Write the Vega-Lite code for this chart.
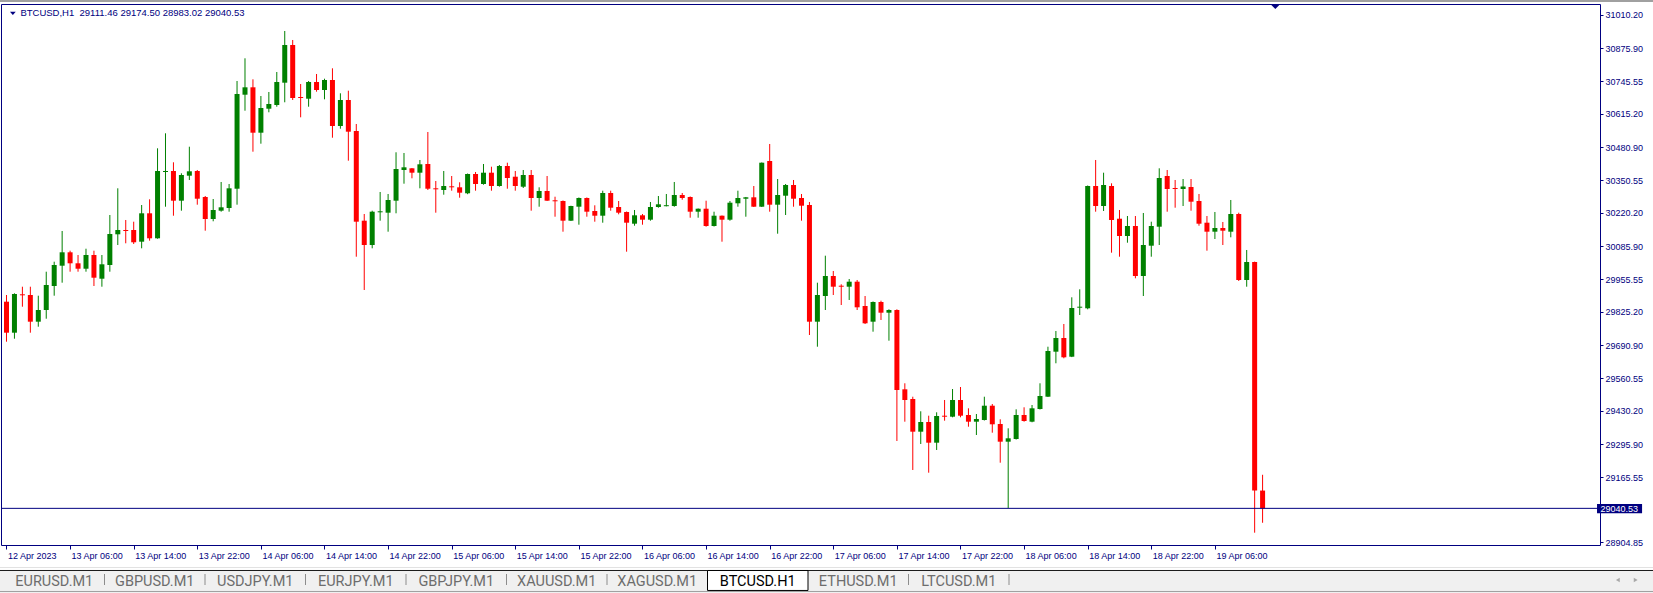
{
"$schema": "https://vega.github.io/schema/vega-lite/v6.json",
"width": 1599,
"height": 541,
"autosize": {"type": "none"},
"padding": {"left": 1, "top": 4, "right": 53, "bottom": 48},
"background": "#ffffff",
"config": {"view": {"stroke": "#000080", "strokeWidth": 1, "fill": "#ffffff"}, "font": "Liberation Sans", "axis": {"labelOverlap": false, "labelBound": false, "labelFlush": false}},
"datasets": {
"candles": [
{"t":"2023-04-12T22:00Z","open":29865.1,"high":29891.8,"low":29705.5,"close":29741.4},
{"t":"2023-04-12T23:00Z","open":29741.4,"high":29898.6,"low":29717.4,"close":29895.8},
{"t":"2023-04-13T00:00Z","open":29894.6,"high":29924.9,"low":29845.1,"close":29890.6},
{"t":"2023-04-13T01:00Z","open":29891.8,"high":29924.9,"low":29741.4,"close":29785.3},
{"t":"2023-04-13T02:00Z","open":29785.3,"high":29889.0,"low":29765.3,"close":29831.9},
{"t":"2023-04-13T03:00Z","open":29831.9,"high":29984.8,"low":29797.2,"close":29931.7},
{"t":"2023-04-13T04:00Z","open":29927.7,"high":30024.7,"low":29889.0,"close":30011.5},
{"t":"2023-04-13T05:00Z","open":30008.7,"high":30147.2,"low":29940.9,"close":30062.2},
{"t":"2023-04-13T06:00Z","open":30062.2,"high":30068.6,"low":29984.8,"close":30018.3},
{"t":"2023-04-13T07:00Z","open":30018.3,"high":30051.4,"low":29984.8,"close":29996.7},
{"t":"2023-04-13T08:00Z","open":29996.7,"high":30076.5,"low":29984.8,"close":30051.4},
{"t":"2023-04-13T09:00Z","open":30051.4,"high":30068.6,"low":29927.7,"close":29960.8},
{"t":"2023-04-13T10:00Z","open":29956.8,"high":30051.4,"low":29924.9,"close":30014.3},
{"t":"2023-04-13T11:00Z","open":30011.5,"high":30211.0,"low":29984.8,"close":30135.2},
{"t":"2023-04-13T12:00Z","open":30134.0,"high":30317.5,"low":30091.3,"close":30151.2},
{"t":"2023-04-13T13:00Z","open":30151.2,"high":30191.1,"low":30098.1,"close":30147.2},
{"t":"2023-04-13T14:00Z","open":30151.2,"high":30184.3,"low":30095.3,"close":30102.1},
{"t":"2023-04-13T15:00Z","open":30104.5,"high":30250.9,"low":30078.1,"close":30217.8},
{"t":"2023-04-13T16:00Z","open":30217.8,"high":30273.6,"low":30108.5,"close":30118.0},
{"t":"2023-04-13T17:00Z","open":30118.0,"high":30477.1,"low":30116.4,"close":30386.6},
{"t":"2023-04-13T18:00Z","open":30382.6,"high":30537.0,"low":30244.1,"close":30386.6},
{"t":"2023-04-13T19:00Z","open":30386.6,"high":30421.3,"low":30208.2,"close":30268.1},
{"t":"2023-04-13T20:00Z","open":30268.1,"high":30377.4,"low":30228.2,"close":30370.6},
{"t":"2023-04-13T21:00Z","open":30367.8,"high":30483.5,"low":30350.7,"close":30385.4},
{"t":"2023-04-13T22:00Z","open":30386.6,"high":30390.6,"low":30252.1,"close":30276.0},
{"t":"2023-04-13T23:00Z","open":30282.8,"high":30286.8,"low":30148.4,"close":30195.0},
{"t":"2023-04-14T00:00Z","open":30195.0,"high":30274.8,"low":30185.9,"close":30231.0},
{"t":"2023-04-14T01:00Z","open":30228.2,"high":30342.7,"low":30224.2,"close":30241.7},
{"t":"2023-04-14T02:00Z","open":30238.9,"high":30334.7,"low":30224.2,"close":30317.5},
{"t":"2023-04-14T03:00Z","open":30315.9,"high":30745.7,"low":30252.1,"close":30693.8},
{"t":"2023-04-14T04:00Z","open":30691.0,"high":30836.2,"low":30627.2,"close":30720.5},
{"t":"2023-04-14T05:00Z","open":30720.5,"high":30752.4,"low":30463.6,"close":30539.4},
{"t":"2023-04-14T06:00Z","open":30539.4,"high":30685.8,"low":30495.5,"close":30637.9},
{"t":"2023-04-14T07:00Z","open":30635.1,"high":30701.8,"low":30620.8,"close":30653.9},
{"t":"2023-04-14T08:00Z","open":30649.9,"high":30781.6,"low":30643.1,"close":30741.7},
{"t":"2023-04-14T09:00Z","open":30738.9,"high":30945.2,"low":30660.7,"close":30889.3},
{"t":"2023-04-14T10:00Z","open":30889.3,"high":30909.3,"low":30669.9,"close":30677.8},
{"t":"2023-04-14T11:00Z","open":30681.8,"high":30733.7,"low":30600.8,"close":30677.8},
{"t":"2023-04-14T12:00Z","open":30675.0,"high":30745.7,"low":30643.1,"close":30741.7},
{"t":"2023-04-14T13:00Z","open":30741.7,"high":30773.6,"low":30703.0,"close":30709.8},
{"t":"2023-04-14T14:00Z","open":30709.8,"high":30754.8,"low":30672.6,"close":30749.7},
{"t":"2023-04-14T15:00Z","open":30749.7,"high":30796.3,"low":30519.4,"close":30566.1},
{"t":"2023-04-14T16:00Z","open":30566.1,"high":30696.6,"low":30555.3,"close":30669.9},
{"t":"2023-04-14T17:00Z","open":30669.9,"high":30707.0,"low":30427.7,"close":30543.4},
{"t":"2023-04-14T18:00Z","open":30546.2,"high":30574.1,"low":30044.6,"close":30184.3},
{"t":"2023-04-14T19:00Z","open":30188.3,"high":30215.0,"low":29911.8,"close":30091.3},
{"t":"2023-04-14T20:00Z","open":30091.3,"high":30228.2,"low":30078.1,"close":30224.2},
{"t":"2023-04-14T21:00Z","open":30221.8,"high":30302.8,"low":30188.3,"close":30225.8},
{"t":"2023-04-14T22:00Z","open":30220.2,"high":30294.8,"low":30144.4,"close":30270.9},
{"t":"2023-04-14T23:00Z","open":30268.1,"high":30461.2,"low":30217.8,"close":30394.5},
{"t":"2023-04-15T00:00Z","open":30390.6,"high":30458.4,"low":30335.9,"close":30401.3},
{"t":"2023-04-15T01:00Z","open":30397.3,"high":30398.5,"low":30357.4,"close":30379.8},
{"t":"2023-04-15T02:00Z","open":30379.8,"high":30430.5,"low":30317.5,"close":30413.3},
{"t":"2023-04-15T03:00Z","open":30414.5,"high":30542.2,"low":30310.8,"close":30315.9},
{"t":"2023-04-15T04:00Z","open":30317.5,"high":30346.7,"low":30220.2,"close":30313.5},
{"t":"2023-04-15T05:00Z","open":30310.8,"high":30386.6,"low":30292.0,"close":30326.7},
{"t":"2023-04-15T06:00Z","open":30325.5,"high":30366.6,"low":30308.0,"close":30321.5},
{"t":"2023-04-15T07:00Z","open":30321.5,"high":30341.5,"low":30280.0,"close":30300.0},
{"t":"2023-04-15T08:00Z","open":30297.6,"high":30376.5,"low":30294.0,"close":30374.6},
{"t":"2023-04-15T09:00Z","open":30374.6,"high":30382.6,"low":30308.0,"close":30334.7},
{"t":"2023-04-15T10:00Z","open":30334.7,"high":30414.5,"low":30331.9,"close":30379.8},
{"t":"2023-04-15T11:00Z","open":30379.8,"high":30403.7,"low":30308.0,"close":30326.7},
{"t":"2023-04-15T12:00Z","open":30326.7,"high":30410.5,"low":30324.0,"close":30406.5},
{"t":"2023-04-15T13:00Z","open":30406.5,"high":30419.7,"low":30315.9,"close":30358.6},
{"t":"2023-04-15T14:00Z","open":30363.8,"high":30386.6,"low":30308.0,"close":30326.7},
{"t":"2023-04-15T15:00Z","open":30323.9,"high":30390.6,"low":30318.7,"close":30370.6},
{"t":"2023-04-15T16:00Z","open":30370.6,"high":30390.6,"low":30228.2,"close":30278.8},
{"t":"2023-04-15T17:00Z","open":30278.8,"high":30321.5,"low":30244.1,"close":30306.8},
{"t":"2023-04-15T18:00Z","open":30306.8,"high":30366.6,"low":30266.9,"close":30268.1},
{"t":"2023-04-15T19:00Z","open":30269.7,"high":30284.0,"low":30204.2,"close":30265.7},
{"t":"2023-04-15T20:00Z","open":30266.9,"high":30269.0,"low":30144.4,"close":30188.3},
{"t":"2023-04-15T21:00Z","open":30188.3,"high":30248.0,"low":30187.0,"close":30246.9},
{"t":"2023-04-15T22:00Z","open":30244.1,"high":30281.0,"low":30172.3,"close":30278.8},
{"t":"2023-04-15T23:00Z","open":30278.8,"high":30281.0,"low":30204.2,"close":30224.2},
{"t":"2023-04-16T00:00Z","open":30227.0,"high":30249.7,"low":30184.3,"close":30208.2},
{"t":"2023-04-16T01:00Z","open":30208.2,"high":30308.0,"low":30180.3,"close":30298.8},
{"t":"2023-04-16T02:00Z","open":30298.8,"high":30308.0,"low":30228.2,"close":30240.1},
{"t":"2023-04-16T03:00Z","open":30242.9,"high":30266.9,"low":30213.8,"close":30220.2},
{"t":"2023-04-16T04:00Z","open":30223.0,"high":30225.0,"low":30064.6,"close":30180.3},
{"t":"2023-04-16T05:00Z","open":30176.3,"high":30231.0,"low":30168.3,"close":30209.8},
{"t":"2023-04-16T06:00Z","open":30209.8,"high":30215.0,"low":30172.3,"close":30192.3},
{"t":"2023-04-16T07:00Z","open":30192.3,"high":30262.9,"low":30188.3,"close":30242.9},
{"t":"2023-04-16T08:00Z","open":30242.9,"high":30286.8,"low":30240.1,"close":30253.7},
{"t":"2023-04-16T09:00Z","open":30246.1,"high":30294.8,"low":30245.5,"close":30250.1},
{"t":"2023-04-16T10:00Z","open":30246.9,"high":30342.7,"low":30244.1,"close":30290.8},
{"t":"2023-04-16T11:00Z","open":30290.8,"high":30298.8,"low":30272.0,"close":30278.8},
{"t":"2023-04-16T12:00Z","open":30282.8,"high":30285.0,"low":30200.2,"close":30224.2},
{"t":"2023-04-16T13:00Z","open":30224.2,"high":30237.0,"low":30200.2,"close":30236.1},
{"t":"2023-04-16T14:00Z","open":30236.1,"high":30268.1,"low":30164.3,"close":30167.1},
{"t":"2023-04-16T15:00Z","open":30167.1,"high":30224.2,"low":30165.0,"close":30208.2},
{"t":"2023-04-16T16:00Z","open":30208.2,"high":30209.0,"low":30104.5,"close":30192.3},
{"t":"2023-04-16T17:00Z","open":30192.3,"high":30266.9,"low":30188.3,"close":30260.1},
{"t":"2023-04-16T18:00Z","open":30257.7,"high":30308.0,"low":30244.1,"close":30278.8},
{"t":"2023-04-16T19:00Z","open":30276.0,"high":30283.0,"low":30204.2,"close":30281.6},
{"t":"2023-04-16T20:00Z","open":30281.6,"high":30326.7,"low":30242.9,"close":30244.1},
{"t":"2023-04-16T21:00Z","open":30244.1,"high":30420.5,"low":30242.9,"close":30419.7},
{"t":"2023-04-16T22:00Z","open":30426.5,"high":30494.3,"low":30224.2,"close":30252.1},
{"t":"2023-04-16T23:00Z","open":30252.1,"high":30354.6,"low":30136.4,"close":30290.8},
{"t":"2023-04-17T00:00Z","open":30288.0,"high":30334.7,"low":30211.0,"close":30330.7},
{"t":"2023-04-17T01:00Z","open":30330.7,"high":30350.7,"low":30244.1,"close":30276.0},
{"t":"2023-04-17T02:00Z","open":30278.8,"high":30294.8,"low":30188.3,"close":30248.1},
{"t":"2023-04-17T03:00Z","open":30250.9,"high":30262.9,"low":29732.2,"close":29785.3},
{"t":"2023-04-17T04:00Z","open":29785.3,"high":29940.9,"low":29685.5,"close":29891.8},
{"t":"2023-04-17T05:00Z","open":29887.8,"high":30048.6,"low":29831.9,"close":29967.6},
{"t":"2023-04-17T06:00Z","open":29967.6,"high":29987.6,"low":29891.8,"close":29924.9},
{"t":"2023-04-17T07:00Z","open":29928.9,"high":29934.5,"low":29851.9,"close":29924.9},
{"t":"2023-04-17T08:00Z","open":29924.9,"high":29955.6,"low":29871.9,"close":29944.9},
{"t":"2023-04-17T09:00Z","open":29944.9,"high":29951.7,"low":29831.9,"close":29842.7},
{"t":"2023-04-17T10:00Z","open":29847.9,"high":29887.8,"low":29776.0,"close":29778.9},
{"t":"2023-04-17T11:00Z","open":29785.3,"high":29866.0,"low":29745.4,"close":29863.9},
{"t":"2023-04-17T12:00Z","open":29863.9,"high":29869.1,"low":29792.1,"close":29821.2},
{"t":"2023-04-17T13:00Z","open":29821.2,"high":29834.7,"low":29709.5,"close":29831.9},
{"t":"2023-04-17T14:00Z","open":29831.9,"high":29834.7,"low":29309.3,"close":29512.8},
{"t":"2023-04-17T15:00Z","open":29515.5,"high":29539.5,"low":29386.3,"close":29472.9},
{"t":"2023-04-17T16:00Z","open":29476.8,"high":29486.0,"low":29193.6,"close":29346.4},
{"t":"2023-04-17T17:00Z","open":29346.4,"high":29427.8,"low":29297.3,"close":29385.1},
{"t":"2023-04-17T18:00Z","open":29385.1,"high":29410.2,"low":29182.8,"close":29302.5},
{"t":"2023-04-17T19:00Z","open":29302.5,"high":29423.8,"low":29273.4,"close":29409.0},
{"t":"2023-04-17T20:00Z","open":29410.2,"high":29472.9,"low":29390.3,"close":29406.2},
{"t":"2023-04-17T21:00Z","open":29406.2,"high":29516.7,"low":29403.8,"close":29472.9},
{"t":"2023-04-17T22:00Z","open":29472.9,"high":29524.7,"low":29403.8,"close":29410.2},
{"t":"2023-04-17T23:00Z","open":29413.0,"high":29439.7,"low":29366.3,"close":29386.3},
{"t":"2023-04-18T00:00Z","open":29386.3,"high":29417.0,"low":29333.2,"close":29397.0},
{"t":"2023-04-18T01:00Z","open":29393.1,"high":29486.0,"low":29391.0,"close":29450.1},
{"t":"2023-04-18T02:00Z","open":29450.1,"high":29456.9,"low":29342.4,"close":29375.9},
{"t":"2023-04-18T03:00Z","open":29377.1,"high":29395.8,"low":29222.7,"close":29306.5},
{"t":"2023-04-18T04:00Z","open":29306.5,"high":29359.9,"low":29042.0,"close":29320.0},
{"t":"2023-04-18T05:00Z","open":29317.2,"high":29435.7,"low":29315.0,"close":29413.0},
{"t":"2023-04-18T06:00Z","open":29413.0,"high":29443.7,"low":29386.3,"close":29389.1},
{"t":"2023-04-18T07:00Z","open":29386.3,"high":29452.9,"low":29384.0,"close":29439.7},
{"t":"2023-04-18T08:00Z","open":29436.9,"high":29539.5,"low":29435.0,"close":29488.8},
{"t":"2023-04-18T09:00Z","open":29486.0,"high":29685.5,"low":29485.0,"close":29668.4},
{"t":"2023-04-18T10:00Z","open":29665.6,"high":29748.2,"low":29619.3,"close":29720.2},
{"t":"2023-04-18T11:00Z","open":29720.2,"high":29776.1,"low":29639.2,"close":29643.2},
{"t":"2023-04-18T12:00Z","open":29645.6,"high":29882.6,"low":29644.0,"close":29839.9},
{"t":"2023-04-18T13:00Z","open":29841.1,"high":29914.5,"low":29812.0,"close":29845.1},
{"t":"2023-04-18T14:00Z","open":29838.7,"high":30328.7,"low":29834.7,"close":30326.7},
{"t":"2023-04-18T15:00Z","open":30326.7,"high":30430.5,"low":30224.2,"close":30246.9},
{"t":"2023-04-18T16:00Z","open":30246.9,"high":30379.8,"low":30227.0,"close":30330.7},
{"t":"2023-04-18T17:00Z","open":30326.7,"high":30337.5,"low":30060.6,"close":30191.1},
{"t":"2023-04-18T18:00Z","open":30196.2,"high":30231.0,"low":30044.6,"close":30127.2},
{"t":"2023-04-18T19:00Z","open":30127.2,"high":30207.0,"low":30100.5,"close":30167.1},
{"t":"2023-04-18T20:00Z","open":30167.1,"high":30207.0,"low":29958.4,"close":29967.6},
{"t":"2023-04-18T21:00Z","open":29967.6,"high":30219.0,"low":29887.8,"close":30091.3},
{"t":"2023-04-18T22:00Z","open":30088.5,"high":30184.3,"low":30044.6,"close":30167.1},
{"t":"2023-04-18T23:00Z","open":30164.3,"high":30397.3,"low":30091.3,"close":30358.6},
{"t":"2023-04-19T00:00Z","open":30366.6,"high":30390.6,"low":30224.2,"close":30314.7},
{"t":"2023-04-19T01:00Z","open":30318.7,"high":30350.7,"low":30240.1,"close":30314.7},
{"t":"2023-04-19T02:00Z","open":30314.7,"high":30354.6,"low":30246.9,"close":30324.7},
{"t":"2023-04-19T03:00Z","open":30322.7,"high":30354.6,"low":30228.2,"close":30264.1},
{"t":"2023-04-19T04:00Z","open":30266.9,"high":30294.8,"low":30168.3,"close":30176.3},
{"t":"2023-04-19T05:00Z","open":30180.3,"high":30207.0,"low":30068.6,"close":30144.4},
{"t":"2023-04-19T06:00Z","open":30144.4,"high":30223.0,"low":30115.2,"close":30159.1},
{"t":"2023-04-19T07:00Z","open":30159.1,"high":30183.1,"low":30091.3,"close":30148.4},
{"t":"2023-04-19T08:00Z","open":30144.4,"high":30270.9,"low":30122.0,"close":30215.0},
{"t":"2023-04-19T09:00Z","open":30215.0,"high":30220.2,"low":29947.7,"close":29951.7},
{"t":"2023-04-19T10:00Z","open":29951.7,"high":30071.4,"low":29924.9,"close":30023.5},
{"t":"2023-04-19T11:00Z","open":30023.5,"high":30025.0,"low":28943.4,"close":29111.46},
{"t":"2023-04-19T12:00Z","open":29111.46,"high":29174.5,"low":28983.02,"close":29040.53}
],
"tabs": [
{"tab":"EURUSD.M1"},{"tab":"GBPUSD.M1"},{"tab":"USDJPY.M1"},{"tab":"EURJPY.M1"},{"tab":"GBPJPY.M1"},
{"tab":"XAUUSD.M1"},{"tab":"XAGUSD.M1"},{"tab":"BTCUSD.H1"},{"tab":"ETHUSD.M1"},{"tab":"LTCUSD.M1"}
]
},
"resolve": {"scale": {"x": "independent"}, "axis": {"x": "independent"}},
"layer": [
{
"layer": [
{
"data": {"values": [{}]},
"mark": {"type": "rect", "fill": "#f0f0f0"},
"encoding": {
"x": {"datum": {"year": 2023, "month": 4, "date": 12, "hours": 20, "utc": true}, "type": "temporal"},
"x2": {"datum": {"year": 2023, "month": 4, "date": 21, "hours": 14, "utc": true}},
"y": {"datum": 28790.6},
"y2": {"datum": 28700}
}
},
{
"data": {"values": [{}]},
"mark": {"type": "rule", "color": "#e2e2e2", "strokeWidth": 1},
"encoding": {
"x": {"datum": {"year": 2023, "month": 4, "date": 12, "hours": 20, "utc": true}, "type": "temporal"},
"x2": {"datum": {"year": 2023, "month": 4, "date": 21, "hours": 14, "utc": true}},
"y": {"datum": 28804.5}
}
},
{
"data": {"values": [{}]},
"mark": {"type": "rule", "color": "#1a1a1a", "strokeWidth": 1},
"encoding": {
"x": {"datum": {"year": 2023, "month": 4, "date": 12, "hours": 20, "utc": true}, "type": "temporal"},
"x2": {"datum": {"year": 2023, "month": 4, "date": 21, "hours": 14, "utc": true}},
"y": {"datum": 28792.6}
}
},
{
"data": {"values": [{}]},
"mark": {"type": "rule", "color": "#a0a0a0", "strokeWidth": 1},
"encoding": {
"x": {"datum": {"year": 2023, "month": 4, "date": 12, "hours": 20, "utc": true}, "type": "temporal"},
"x2": {"datum": {"year": 2023, "month": 4, "date": 21, "hours": 14, "utc": true}},
"y": {"datum": 28708.8}
}
},
{
"data": {"values": [{}]},
"mark": {"type": "rule", "color": "#a0a0a0", "strokeWidth": 2},
"encoding": {
"x": {"datum": {"year": 2023, "month": 4, "date": 12, "hours": 20, "utc": true}, "type": "temporal"},
"x2": {"datum": {"year": 2023, "month": 4, "date": 21, "hours": 14, "utc": true}},
"y": {"datum": 31064.9}
}
},
{
"data": {"name": "candles"},
"mark": {"type": "rule", "strokeWidth": 1},
"encoding": {
"x": {
"field": "t", "type": "temporal",
"scale": {"type": "utc", "domain": [
{"year": 2023, "month": 4, "date": 12, "hours": 21, "minutes": 56, "seconds": 15, "utc": true},
{"year": 2023, "month": 4, "date": 21, "hours": 5, "minutes": 48, "seconds": 45, "utc": true}
]},
"axis": {
"values": [
{"year": 2023, "month": 4, "date": 12, "hours": 22, "utc": true},
{"year": 2023, "month": 4, "date": 13, "hours": 6, "utc": true},
{"year": 2023, "month": 4, "date": 13, "hours": 14, "utc": true},
{"year": 2023, "month": 4, "date": 13, "hours": 22, "utc": true},
{"year": 2023, "month": 4, "date": 14, "hours": 6, "utc": true},
{"year": 2023, "month": 4, "date": 14, "hours": 14, "utc": true},
{"year": 2023, "month": 4, "date": 14, "hours": 22, "utc": true},
{"year": 2023, "month": 4, "date": 15, "hours": 6, "utc": true},
{"year": 2023, "month": 4, "date": 15, "hours": 14, "utc": true},
{"year": 2023, "month": 4, "date": 15, "hours": 22, "utc": true},
{"year": 2023, "month": 4, "date": 16, "hours": 6, "utc": true},
{"year": 2023, "month": 4, "date": 16, "hours": 14, "utc": true},
{"year": 2023, "month": 4, "date": 16, "hours": 22, "utc": true},
{"year": 2023, "month": 4, "date": 17, "hours": 6, "utc": true},
{"year": 2023, "month": 4, "date": 17, "hours": 14, "utc": true},
{"year": 2023, "month": 4, "date": 17, "hours": 22, "utc": true},
{"year": 2023, "month": 4, "date": 18, "hours": 6, "utc": true},
{"year": 2023, "month": 4, "date": 18, "hours": 14, "utc": true},
{"year": 2023, "month": 4, "date": 18, "hours": 22, "utc": true},
{"year": 2023, "month": 4, "date": 19, "hours": 6, "utc": true}
],
"tickCount": 60,
"labelExpr": "(utcdate(datum.value) == 12 && utchours(datum.value) == 22) ? utcFormat(datum.value, '%d %b %Y') : utcFormat(datum.value, '%d %b %H:%M')",
"labelAlign": "left", "labelBaseline": "top", "labelPadding": 2, "labelOffset": 1,
"labelFontSize": 9, "labelFont": "Liberation Sans", "labelColor": "#000080",
"tickColor": "#000080", "tickSize": 4, "tickWidth": 1,
"domain": false, "grid": false, "title": null,
"labelOverlap": false, "labelFlush": false, "labelBound": false
}
},
"y": {
"field": "low", "type": "quantitative",
"scale": {"domain": [28894.3, 31052.9], "zero": false, "nice": false},
"axis": {
"orient": "right",
"values": [31010.2, 30875.9, 30745.55, 30615.2, 30480.9, 30350.55, 30220.2, 30085.9, 29955.55, 29825.2, 29690.9, 29560.55, 29430.2, 29295.9, 29165.55, 28904.85],
"tickCount": 40,
"format": ".2f",
"labelFontSize": 9, "labelFont": "Liberation Sans", "labelColor": "#000080",
"tickColor": "#000080", "tickSize": 3, "labelPadding": 2,
"domain": false, "grid": false, "title": null,
"labelOverlap": false, "labelBound": false, "labelFlush": false
}
},
"y2": {"field": "high"},
"color": {"condition": {"test": "datum.close >= datum.open", "value": "#008000"}, "value": "#ff0000"}
}
},
{
"data": {"name": "candles"},
"mark": {"type": "bar", "width": 5},
"encoding": {
"x": {"field": "t", "type": "temporal"},
"y": {"field": "open", "type": "quantitative"},
"y2": {"field": "close"},
"color": {"condition": {"test": "datum.close >= datum.open", "value": "#008000"}, "value": "#ff0000"}
}
},
{
"data": {"values": [{}]},
"mark": {"type": "rule", "color": "#000080", "strokeWidth": 1},
"encoding": {"y": {"datum": 29040.53}}
},
{
"data": {"values": [{}]},
"mark": {"type": "rect", "fill": "#000080"},
"encoding": {
"x": {"datum": {"year": 2023, "month": 4, "date": 21, "hours": 6, "minutes": 4, "utc": true}, "type": "temporal"},
"x2": {"datum": {"year": 2023, "month": 4, "date": 21, "hours": 11, "minutes": 44, "utc": true}},
"y": {"datum": 29057.9},
"y2": {"datum": 29020.8}
}
},
{
"data": {"values": [{}]},
"mark": {"type": "text", "text": "29040.53", "align": "left", "baseline": "middle", "fontSize": 9, "font": "Liberation Sans", "fill": "#ffffff"},
"encoding": {
"x": {"datum": {"year": 2023, "month": 4, "date": 21, "hours": 6, "minutes": 30, "utc": true}, "type": "temporal"},
"y": {"datum": 29039.3}
}
},
{
"data": {"values": [{}]},
"mark": {"type": "point", "shape": "M-1,-0.5L1,-0.5L0,0.5Z", "size": 100, "filled": true, "color": "#000080", "opacity": 1},
"encoding": {
"x": {"datum": {"year": 2023, "month": 4, "date": 19, "hours": 13, "minutes": 36, "utc": true}, "type": "temporal"},
"y": {"datum": 31042.9}
}
},
{
"data": {"values": [{}]},
"mark": {"type": "point", "shape": "M-1,-0.55L1,-0.55L0,0.55Z", "size": 33, "filled": true, "color": "#000080", "opacity": 1},
"encoding": {
"x": {"datum": {"year": 2023, "month": 4, "date": 12, "hours": 22, "minutes": 48, "utc": true}, "type": "temporal"},
"y": {"datum": 31015.8}
}
},
{
"data": {"values": [{}]},
"mark": {"type": "text", "text": "BTCUSD,H1\u00a0\u00a029111.46 29174.50 28983.02 29040.53", "align": "left", "baseline": "middle", "fontSize": 9.5, "font": "Liberation Sans", "fill": "#000080"},
"encoding": {
"x": {"datum": {"year": 2023, "month": 4, "date": 12, "hours": 23, "minutes": 45, "utc": true}, "type": "temporal"},
"y": {"datum": 31018.4}
}
},
{
"data": {"values": [{}]},
"mark": {"type": "point", "shape": "triangle-left", "size": 20, "filled": true, "color": "#a8a8a8", "opacity": 1},
"encoding": {
"x": {"datum": {"year": 2023, "month": 4, "date": 21, "hours": 8, "minutes": 41, "utc": true}, "type": "temporal"},
"y": {"datum": 28754.7}
}
},
{
"data": {"values": [{}]},
"mark": {"type": "point", "shape": "triangle-right", "size": 20, "filled": true, "color": "#a8a8a8", "opacity": 1},
"encoding": {
"x": {"datum": {"year": 2023, "month": 4, "date": 21, "hours": 10, "minutes": 56, "utc": true}, "type": "temporal"},
"y": {"datum": 28754.7}
}
}
]
},
{
"data": {"name": "tabs"},
"layer": [
{
"transform": [{"filter": "datum.tab == 'BTCUSD.H1'"}],
"mark": {"type": "rect", "fill": "#ffffff", "stroke": "#000000", "strokeWidth": 1},
"encoding": {
"x": {"field": "tab", "type": "nominal", "sort": null, "axis": null,
"scale": {"type": "band", "domain": ["EURUSD.M1","GBPUSD.M1","USDJPY.M1","EURJPY.M1","GBPJPY.M1","XAUUSD.M1","XAGUSD.M1","BTCUSD.H1","ETHUSD.M1","LTCUSD.M1"], "range": [3, 1008], "paddingInner": 0, "paddingOuter": 0}},
"y": {"datum": 28792.6},
"y2": {"datum": 28712.9}
}
},
{
"transform": [{"filter": "datum.tab != 'EURUSD.M1' && datum.tab != 'BTCUSD.H1' && datum.tab != 'ETHUSD.M1'"}],
"mark": {"type": "rule", "color": "#8c8c8c", "strokeWidth": 1},
"encoding": {
"x": {"field": "tab", "type": "nominal", "bandPosition": 0, "axis": null},
"y": {"datum": 28778.6},
"y2": {"datum": 28734.7}
}
},
{
"transform": [{"filter": "datum.tab == 'LTCUSD.M1'"}],
"mark": {"type": "rule", "color": "#8c8c8c", "strokeWidth": 1},
"encoding": {
"x": {"field": "tab", "type": "nominal", "bandPosition": 1, "axis": null},
"y": {"datum": 28778.6},
"y2": {"datum": 28734.7}
}
},
{
"mark": {"type": "text", "font": "Roboto", "fontSize": 14.5, "align": "center", "baseline": "middle"},
"encoding": {
"x": {"field": "tab", "type": "nominal", "axis": null},
"y": {"datum": 28746.7},
"text": {"field": "tab"},
"color": {"condition": {"test": "datum.tab == 'BTCUSD.H1'", "value": "#000000"}, "value": "#6d6d6d"}
}
}
]
}
]
}
